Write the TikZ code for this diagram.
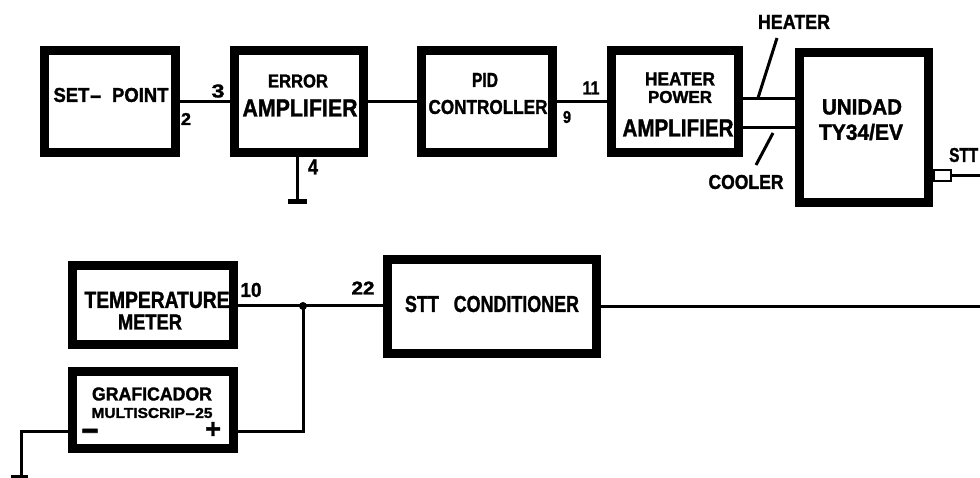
\documentclass[tikz,border=0pt]{standalone}
\usepackage{fontspec}
\setmainfont{Liberation Sans}[BoldFeatures={FakeBold=1.6}]
\usepackage{graphicx}
\usetikzlibrary{calc}
\newcommand{\fitt}[3]{\resizebox{#1pt}{#2pt}{\bfseries #3}}
\begin{document}
\begin{tikzpicture}[x=1pt,y=-1pt,
  blk/.style={draw, line width=9pt, inner sep=0pt},
  wire/.style={line width=3pt},
  txt/.style={inner sep=0pt, anchor=center}]
\useasboundingbox (0,0) rectangle (980,478);
\fill[white] (0,0) rectangle (980,478);

% ---- top row boxes
\node[blk, minimum width=131pt, minimum height=102pt] (sp)  at (110,101.5) {};
\node[blk, minimum width=129pt, minimum height=102pt] (ea)  at (299,101.5) {};
\node[blk, minimum width=131pt, minimum height=102pt] (pid) at (487,101.5) {};
\node[blk, minimum width=127pt, minimum height=102pt] (hpa) at (675,101.5) {};
\node[blk, minimum width=129pt, minimum height=150pt] (un)  at (864,127.5) {};
\node[draw, line width=2pt, inner sep=0pt, minimum width=17pt, minimum height=11pt] (stt) at (942.5,175.5) {};

% ---- bottom boxes
\node[blk, minimum width=161pt, minimum height=79pt] (tm) at (153,305) {};
\node[blk, minimum width=161pt, minimum height=77pt] (gr) at (153,410) {};
\node[blk, minimum width=209pt, minimum height=94pt] (sc) at (492,306.5) {};

% ---- texts inside boxes
\node[txt] (tsp)  at (111,95)  {\fitt{115}{14}{SET\scalebox{2}[1]{-}\ \ POINT}};
\node[txt] (tea1) at (298,81)  {\fitt{60}{13}{ERROR}};
\node[txt] (tea2) at (300,108) {\fitt{115}{17}{AMPLIFIER}};
\node[txt] (tpid1) at (485,80) {\fitt{26}{14}{PID}};
\node[txt] (tpid2) at (488,107) {\fitt{119}{14}{CONTROLLER}};
\node[txt] (thp1) at (680,79)  {\fitt{70}{13}{HEATER}};
\node[txt] (thp2) at (680,97)  {\fitt{64}{12}{POWER}};
\node[txt] (thp3) at (678,128) {\fitt{111}{17}{AMPLIFIER}};
\node[txt] (tun1) at (862,107) {\fitt{80}{15}{UNIDAD}};
\node[txt] (tun2) at (861,132) {\fitt{84}{16}{TY34/EV}};
\node[txt] (ttm1) at (157,300) {\fitt{145}{16}{TEMPERATURE}};
\node[txt] (ttm2) at (150,322) {\fitt{64}{15}{METER}};
\node[txt] (tgr1) at (152,394) {\fitt{120}{13}{GRAFICADOR}};
\node[txt] (tgr2) at (152,413) {\fitt{121}{10}{MULTISCRIP\scalebox{2}[1]{-}25}};
\node[inner sep=0pt, anchor=base] (tminus) at (90,441) {\scalebox{1.1}[1.4]{\fontsize{27}{27}\selectfont\bfseries –}};
\node[txt] (tplus) at (213,430) {\fontsize{27}{27}\selectfont\bfseries +};
\node[txt] (tsc) at (492,304) {\fitt{174}{16}{STT\ \ \ CONDITIONER}};

% ---- pin labels
\node[txt] (l3)  at (218,91)  {\fitt{13}{13}{3}};
\node[txt] (l2)  at (186,119) {\fitt{10}{12}{2}};
\node[txt] (l4)  at (313,167) {\fitt{10}{15}{4}};
\node[txt] (l9)  at (567,117) {\fitt{8}{12}{9}};
\node[txt] (l11) at (591,88)  {\fitt{17}{13}{11}};
\node[txt] (l10) at (251,290) {\fitt{21}{14}{10}};
\node[txt] (l22) at (363,288) {\fitt{23}{13}{22}};
\node[txt] (lheat) at (794,22) {\fitt{72}{14}{HEATER}};
\node[txt] (lcool) at (746,182) {\fitt{75}{14}{COOLER}};
\node[inner sep=0pt, anchor=west] (lstt) at (949,155) {\fitt{29}{14}{STT}};

% ---- coordinates
\coordinate (hy) at (0,99);
\coordinate (cy) at (0,128);
\coordinate (g1) at (297,202);
\coordinate (j) at (303,306);
\coordinate (gp) at (0,431);
\coordinate (g2) at (21,477);
\coordinate (eR) at (985,175.5);
\coordinate (eR2) at (985,306.5);
\coordinate (h1) at (758,98);  \coordinate (h2) at (777,38);
\coordinate (c1) at (773,133); \coordinate (c2) at (756,165);

% ---- wires
\draw[wire] (sp.east) -- (ea.west);
\draw[wire] (ea.east) -- (pid.west);
\draw[wire] (pid.east) -- (hpa.west);
\draw[wire] (hpa.east |- hy) -- (un.west |- hy);
\draw[wire] (hpa.east |- cy) -- (un.west |- cy);
\draw[wire] (h1) -- (h2);
\draw[wire] (c1) -- (c2);
\draw[wire] (stt.east) -- (eR);
\draw[wire] (ea.south -| g1) -- (g1);
\draw[line width=5pt] ($(g1)+(-9,0)$) -- ($(g1)+(10,0)$);
\draw[wire] (tm.east |- j) -- (sc.west |- j);
\fill (j) circle (4pt);
\draw[wire] (j) -- (j |- gp) -- (gr.east |- gp);
\draw[wire] (gr.west |- gp) -- (g2 |- gp) -- (g2);
\draw[line width=4pt] ($(g2)+(-10,0)$) -- ($(g2)+(7,0)$);
\draw[wire] (sc.east) -- (eR2);
\end{tikzpicture}
\end{document}
